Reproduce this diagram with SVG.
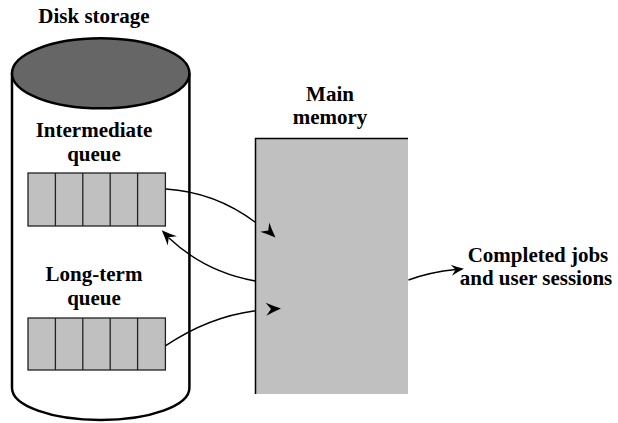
<svg xmlns="http://www.w3.org/2000/svg" width="618" height="423" viewBox="0 0 618 423">
<style>
text{font-family:"Liberation Serif","Times New Roman",serif;font-weight:bold;font-size:21px;fill:#000;text-anchor:middle}
.cell{fill:#c0c0c0;stroke:#222;stroke-width:1.3}
.conn{fill:none;stroke:#000;stroke-width:1.4}
.ah{fill:#000}
</style>
<defs>
<path id="ah" d="M0,0 Q-8,-3 -15,-6.5 L-10,0 L-15,6.5 Q-8,3 0,0Z"/>
</defs>
<rect width="618" height="423" fill="#fff"/>
<g id="disk">
<path d="M12,73 V388 A88.7,32 0 0 0 189.4,388 V73" fill="#fff" stroke="#000" stroke-width="2.5"/>
<ellipse cx="100.7" cy="73.3" rx="88.7" ry="35" fill="#666" stroke="#000" stroke-width="2.5"/>
<text x="94" y="23">Disk storage</text>
</g>
<g id="intermediate-queue">
<text x="94" y="137">Intermediate</text>
<text x="94" y="161">queue</text>
<rect class="cell" x="28" y="173" width="137.4" height="53"/>
<path d="M55.4,173V226M82.8,173V226M110.2,173V226M137.6,173V226" stroke="#222" stroke-width="1.3"/>
</g>
<g id="long-term-queue">
<text x="94" y="281">Long-term</text>
<text x="94" y="305">queue</text>
<rect class="cell" x="28" y="318" width="137.4" height="52"/>
<path d="M55.4,318V370M82.8,318V370M110.2,318V370M137.6,318V370" stroke="#222" stroke-width="1.3"/>
</g>
<g id="main-memory">
<rect x="255" y="138" width="153" height="256" fill="#c0c0c0"/>
<path d="M255.5,394 V138.5 H408" fill="none" stroke="#000" stroke-width="1.5"/>
<text x="330" y="101">Main</text>
<text x="330" y="124">memory</text>
</g>
<g id="completed">
<text x="538" y="262">Completed jobs</text>
<text x="536" y="285">and user sessions</text>
</g>
<g id="connectors">
<path class="conn" d="M165.7,189 Q215,192 255.3,222.3"/>
<use href="#ah" class="ah" transform="translate(275.5,237.5) rotate(44)"/>
<path class="conn" d="M255.3,281 Q205,272 169,238"/>
<use href="#ah" class="ah" transform="translate(161.7,230.3) rotate(225)"/>
<path class="conn" d="M165.7,345.7 Q208,317 255.3,310.7"/>
<use href="#ah" class="ah" transform="translate(281,308.5) rotate(-3)"/>
<path class="conn" d="M408.5,280 Q430,272 456,269.5"/>
<use href="#ah" class="ah" transform="translate(464,268.8) rotate(-6) scale(0.85)"/>
</g>
</svg>
